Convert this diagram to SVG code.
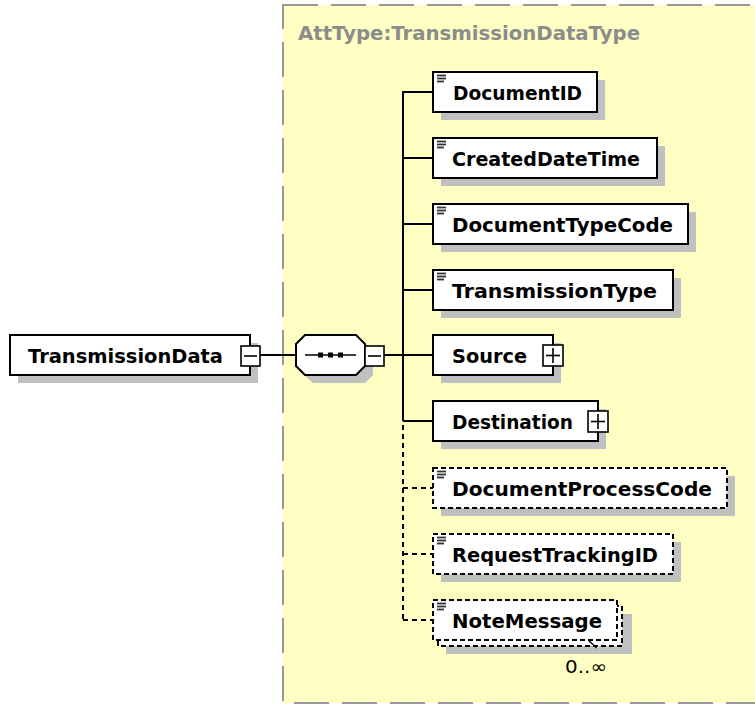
<svg xmlns="http://www.w3.org/2000/svg" width="755" height="704" viewBox="0 0 755 704">
  <defs>
    <style>
      .bg { fill: #ffffff; }
      .type { fill: #ffffc4; stroke: #999999; stroke-width: 2; stroke-dasharray: 35 13; }
      .hdr { font-family: "DejaVu Sans", Verdana, sans-serif; font-weight: bold; font-size: 20px; fill: #8c8c8c; }
      .shadow { fill: #c0c0c0; stroke: none; }
      .box { fill: #ffffff; stroke: #000000; stroke-width: 2; }
      .opt { fill: #ffffff; stroke: #000000; stroke-width: 2; stroke-dasharray: 5 3; }
      .lbl { font-family: "DejaVu Sans", Verdana, sans-serif; font-weight: bold; font-size: 20px; fill: #000000; }
      .occ { font-family: "DejaVu Sans", Verdana, sans-serif; font-size: 18px; fill: #000000; }
      .icon { stroke: #333333; stroke-width: 1.8; }
      .btn { fill: #ffffff; stroke: #000000; stroke-width: 1.6; }
      .sym { stroke: #000000; stroke-width: 1.6; }
      .conn { stroke: #000000; stroke-width: 2; fill: none; }
      .dconn { stroke: #000000; stroke-width: 2; fill: none; stroke-dasharray: 5 4; }
    </style>
    <g id="simpleIcon">
      <line class="icon" x1="4" y1="3.5" x2="13" y2="3.5"/>
      <line class="icon" x1="4" y1="6.5" x2="13" y2="6.5"/>
      <line class="icon" x1="4" y1="9.5" x2="11" y2="9.5"/>
    </g>
  </defs>

  <rect class="bg" x="0" y="0" width="755" height="704"/>

  <!-- complex type container -->
  <g id="attType">
    <rect class="type" x="283" y="5" width="490" height="698"/>
    <text class="hdr" x="298" y="40" textLength="342" lengthAdjust="spacingAndGlyphs">AttType:TransmissionDataType</text>
  </g>

  <!-- connectors -->
  <g id="connectors">
    <line class="conn" x1="260" y1="355" x2="296" y2="355"/>
    <line class="conn" x1="384" y1="355" x2="403" y2="355"/>
    <line class="conn" x1="403" y1="91" x2="403" y2="421"/>
    <line class="dconn" x1="403" y1="425" x2="403" y2="620"/>
    <line class="conn" x1="403" y1="92" x2="433" y2="92"/>
    <line class="conn" x1="403" y1="158" x2="433" y2="158"/>
    <line class="conn" x1="403" y1="224" x2="433" y2="224"/>
    <line class="conn" x1="403" y1="290" x2="433" y2="290"/>
    <line class="conn" x1="403" y1="355" x2="433" y2="355"/>
    <line class="conn" x1="403" y1="421" x2="433" y2="421"/>
    <line class="dconn" x1="403" y1="488" x2="433" y2="488"/>
    <line class="dconn" x1="403" y1="554" x2="433" y2="554"/>
    <line class="dconn" x1="403" y1="620" x2="433" y2="620"/>
  </g>

  <!-- root element -->
  <g id="TransmissionData">
    <rect class="shadow" x="18" y="343" width="240" height="40"/>
    <rect class="box" x="10" y="335" width="240" height="40"/>
    <text class="lbl" x="28" y="362.5" textLength="195" lengthAdjust="spacingAndGlyphs">TransmissionData</text>
    <rect class="btn" x="241" y="346" width="19" height="20"/>
    <line class="sym" x1="244" y1="356" x2="257" y2="356"/>
  </g>

  <!-- sequence compositor -->
  <g id="sequence">
    <polygon class="shadow" points="313,343 365,343 373,351 373,375 365,383 313,383 304,375 304,351"/>
    <polygon class="box" points="305,335 356,335 365,344 365,366 356,375 305,375 296,366 296,344"/>
    <line class="sym" x1="305" y1="355" x2="356" y2="355"/>
    <rect x="318" y="352.5" width="5" height="5" fill="#000"/>
    <rect x="328" y="352.5" width="5" height="5" fill="#000"/>
    <rect x="338" y="352.5" width="5" height="5" fill="#000"/>
    <rect class="btn" x="365" y="346" width="19" height="20"/>
    <line class="sym" x1="368" y1="356" x2="381" y2="356"/>
  </g>

  <g id="DocumentID">
    <rect class="shadow" x="441" y="80" width="164" height="40"/>
    <rect class="box" x="433" y="72" width="164" height="40"/>
    <use href="#simpleIcon" x="433" y="72"/>
    <text class="lbl" x="453" y="100" textLength="129" lengthAdjust="spacingAndGlyphs">DocumentID</text>
  </g>

  <g id="CreatedDateTime">
    <rect class="shadow" x="441" y="146" width="224" height="40"/>
    <rect class="box" x="433" y="138" width="224" height="40"/>
    <use href="#simpleIcon" x="433" y="138"/>
    <text class="lbl" x="452" y="166" textLength="188" lengthAdjust="spacingAndGlyphs">CreatedDateTime</text>
  </g>

  <g id="DocumentTypeCode">
    <rect class="shadow" x="441" y="212" width="255" height="40"/>
    <rect class="box" x="433" y="204" width="255" height="40"/>
    <use href="#simpleIcon" x="433" y="204"/>
    <text class="lbl" x="452" y="232" textLength="221" lengthAdjust="spacingAndGlyphs">DocumentTypeCode</text>
  </g>

  <g id="TransmissionType">
    <rect class="shadow" x="441" y="278" width="240" height="40"/>
    <rect class="box" x="433" y="270" width="240" height="40"/>
    <use href="#simpleIcon" x="433" y="270"/>
    <text class="lbl" x="452" y="298" textLength="205" lengthAdjust="spacingAndGlyphs">TransmissionType</text>
  </g>

  <g id="Source">
    <rect class="shadow" x="441" y="343" width="120" height="40"/>
    <rect class="box" x="433" y="335" width="120" height="40"/>
    <text class="lbl" x="452" y="363" textLength="75" lengthAdjust="spacingAndGlyphs">Source</text>
    <rect class="btn" x="543" y="345" width="20" height="21"/>
    <line class="sym" x1="546" y1="355.5" x2="560" y2="355.5"/>
    <line class="sym" x1="553" y1="348" x2="553" y2="363"/>
  </g>

  <g id="Destination">
    <rect class="shadow" x="441" y="409" width="165" height="40"/>
    <rect class="box" x="433" y="401" width="165" height="40"/>
    <text class="lbl" x="452" y="429" textLength="121" lengthAdjust="spacingAndGlyphs">Destination</text>
    <rect class="btn" x="588" y="411" width="20" height="21"/>
    <line class="sym" x1="591" y1="421.5" x2="605" y2="421.5"/>
    <line class="sym" x1="598" y1="414" x2="598" y2="429"/>
  </g>

  <g id="DocumentProcessCode">
    <rect class="shadow" x="441" y="476" width="294" height="40"/>
    <rect class="opt" x="433" y="468" width="294" height="40"/>
    <use href="#simpleIcon" x="433" y="468"/>
    <text class="lbl" x="452" y="496" textLength="260" lengthAdjust="spacingAndGlyphs">DocumentProcessCode</text>
  </g>

  <g id="RequestTrackingID">
    <rect class="shadow" x="441" y="542" width="240" height="40"/>
    <rect class="opt" x="433" y="534" width="240" height="40"/>
    <use href="#simpleIcon" x="433" y="534"/>
    <text class="lbl" x="452" y="562" textLength="206" lengthAdjust="spacingAndGlyphs">RequestTrackingID</text>
  </g>

  <g id="NoteMessage">
    <rect class="shadow" x="446" y="614" width="186" height="40"/>
    <rect class="opt" x="438" y="606" width="184" height="40"/>
    <rect class="opt" x="433" y="600" width="184" height="40"/>
    <use href="#simpleIcon" x="433" y="600"/>
    <text class="lbl" x="452" y="628" textLength="150" lengthAdjust="spacingAndGlyphs">NoteMessage</text>
    <polyline points="589,641 597,648" stroke="#000" stroke-width="1.4" fill="none"/>
    <polyline points="597,648 604,642" stroke="#e8e8e8" stroke-width="1.4" fill="none"/>
    <text class="occ" x="565" y="673" textLength="42" lengthAdjust="spacingAndGlyphs">0..∞</text>
  </g>
</svg>
